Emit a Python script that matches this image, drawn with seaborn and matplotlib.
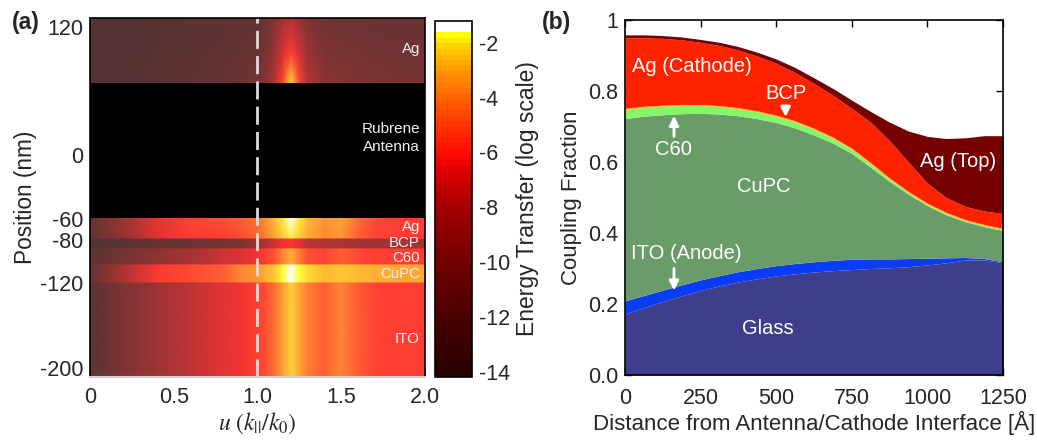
import numpy as np
import matplotlib
matplotlib.use("Agg")
import matplotlib.pyplot as plt
import seaborn as sns
from matplotlib.colors import LinearSegmentedColormap, ListedColormap, Normalize
from matplotlib.cm import ScalarMappable

# ---------------- (a) energy transfer map (log10 values) ----------------
u_pts = [0, 0.2, 0.4, 0.6, 0.8, 0.9, 1.0, 1.05, 1.1, 1.15, 1.2, 1.25, 1.3, 1.4, 1.5, 1.6, 1.7, 1.85, 2.0]

ag_top_high = [-14.2, -14.0, -13.8, -13.5, -13.2, -12.9, -12.6, -12.1, -11.0, -9.2, -8.3, -9.2, -11.0, -11.8, -12.0, -12.1, -12.2, -12.3, -12.3]
ag_top_mid = [-14.2, -14.0, -13.6, -13.2, -12.8, -12.5, -12.0, -11.3, -9.6, -7.2, -6.0, -7.2, -9.5, -11.0, -11.3, -11.5, -11.7, -11.8, -11.8]
ag_top_low = [-14.2, -14.0, -13.5, -13.0, -12.5, -12.0, -11.5, -10.5, -8.5, -5.8, -2.2, -5.8, -8.0, -10.0, -10.5, -11.0, -11.3, -11.5, -11.5]
ag_low_top = [-12.8, -9.3, -6.6, -5.8, -5.4, -4.9, -4.3, -3.6, -2.8, -2.0, -1.2, -2.0, -2.8, -3.5, -3.2, -4.6, -5.5, -5.9, -5.9]
ag_low_bottom = [-13.0, -9.8, -7.0, -6.2, -5.9, -5.5, -4.9, -4.2, -3.4, -2.6, -1.9, -2.5, -3.2, -3.9, -3.6, -5.0, -5.7, -5.9, -5.9]
bcp_map = [-14.2, -13.2, -12.5, -12.0, -11.5, -11.0, -9.5, -8.5, -7.3, -6.4, -6.1, -6.8, -7.9, -8.4, -8.5, -9.0, -9.0, -9.0, -9.0]
c60_map = [-13.5, -11.5, -10.0, -8.8, -7.4, -6.9, -6.4, -6.0, -5.3, -4.0, -2.9, -4.2, -5.3, -5.7, -5.0, -5.6, -5.9, -6.0, -6.0]
cupc_map = [-12.8, -8.5, -6.2, -5.6, -4.9, -4.0, -3.5, -3.0, -2.5, -1.7, -1.2, -1.7, -2.2, -2.8, -2.6, -2.8, -3.0, -3.2, -3.2]
ito_map = [-13.5, -11.0, -9.3, -7.8, -6.8, -6.4, -5.9, -5.4, -4.5, -3.3, -2.3, -3.2, -4.2, -5.0, -4.0, -5.0, -5.7, -5.9, -5.9]

# layer boundaries (nm)
z_ag_top = [67.4, 95, 128.4]
z_rubrene = [-59.2, 67.4]
z_ag_low = [-79, -59.2]
z_bcp = [-88.3, -79]
z_c60 = [-103.3, -88.3]
z_cupc = [-120.2, -103.3]
z_ito = [-208.4, -120.2]

map_labels = ["Ag", "Ag", "BCP", "C60", "CuPC", "ITO"]
map_label_z = [99, -68, -83, -97, -112, -173]

pos_ticks = [120, 0, -60, -80, -120, -200]
u_ticks = [0, 0.5, 1.0, 1.5, 2.0]
u_ticklabels = ["0", "0.5", "1.0", "1.5", "2.0"]
cbar_ticks = [-2, -4, -6, -8, -10, -12, -14]

# colormap anchors
cm_vals = [-14.2, -12, -10, -8, -6.5, -6, -5, -4, -3, -2, -1.6, -1.55, -1.2]
cm_cols = ["#280000", "#4b0000", "#730000", "#a50000", "#e60000", "#ff0a00", "#ff3200",
           "#ff5f00", "#ff9100", "#ffd200", "#ffff00", "#ffffff", "#ffffff"]

# ---------------- (b) coupling fraction (cumulative layer tops) ----------------
dist = [0, 62.5, 125, 187.5, 250, 312.5, 375, 437.5, 500, 562.5, 625, 687.5,
        750, 812.5, 875, 937.5, 1000, 1062.5, 1125, 1187.5, 1250]
glass_top = [0.172, 0.190, 0.207, 0.223, 0.238, 0.251, 0.262, 0.271, 0.279, 0.285, 0.290,
             0.294, 0.297, 0.300, 0.302, 0.305, 0.310, 0.316, 0.324, 0.324, 0.316]
ito_top = [0.209, 0.224, 0.239, 0.254, 0.268, 0.280, 0.291, 0.300, 0.308, 0.314, 0.319,
           0.323, 0.326, 0.327, 0.327, 0.328, 0.329, 0.330, 0.331, 0.328, 0.319]
cupc_top = [0.722, 0.729, 0.733, 0.736, 0.737, 0.735, 0.730, 0.722, 0.711, 0.696, 0.676,
            0.653, 0.624, 0.585, 0.545, 0.509, 0.477, 0.451, 0.432, 0.418, 0.407]
c60_top = [0.748, 0.754, 0.757, 0.759, 0.759, 0.756, 0.750, 0.741, 0.729, 0.713, 0.692,
           0.667, 0.636, 0.595, 0.552, 0.514, 0.481, 0.455, 0.435, 0.421, 0.410]
bcp_top = [0.751, 0.757, 0.760, 0.762, 0.762, 0.759, 0.753, 0.744, 0.732, 0.716, 0.695,
           0.670, 0.639, 0.598, 0.555, 0.517, 0.484, 0.458, 0.438, 0.424, 0.413]
ag_cathode_top = [0.950, 0.950, 0.948, 0.944, 0.937, 0.928, 0.915, 0.898, 0.878, 0.852, 0.821,
                  0.788, 0.751, 0.712, 0.660, 0.600, 0.540, 0.500, 0.475, 0.462, 0.455]
ag_top_top = [0.958, 0.958, 0.956, 0.952, 0.945, 0.937, 0.925, 0.909, 0.890, 0.866, 0.837,
              0.807, 0.774, 0.742, 0.712, 0.687, 0.672, 0.666, 0.668, 0.674, 0.674]
layer_colors = ["#3e3e8c", "#0a3cf5", "#6a9c6a", "#86f56a", "#f5b400", "#ff2200", "#760000"]

# ---------------- style ----------------
sns.set_theme(style="ticks")
plt.rcParams["font.family"] = ["Liberation Sans", "DejaVu Sans"]
plt.rcParams["axes.unicode_minus"] = False
plt.rcParams["mathtext.fontset"] = "stix"

fig = plt.figure(figsize=(10.37, 4.4), dpi=100)
ax_a = fig.add_axes([0.0868, 0.1432, 0.323, 0.816])
cax = fig.add_axes([0.4195, 0.1432, 0.0357, 0.809])
ax_b = fig.add_axes([0.6027, 0.1477, 0.3645, 0.807])

vmin, vmax = -14.2, -1.2
norm = Normalize(vmin, vmax)
base = LinearSegmentedColormap.from_list(
    "et", list(zip([(v - vmin) / (vmax - vmin) for v in cm_vals], cm_cols)))
cmap = ListedColormap(base(np.linspace(0, 1, 64)))
# the map itself is drawn slightly washed out (as if 80 % opaque over white)
faded = cmap(np.arange(64))
faded[:, :3] = 0.8 * faded[:, :3] + 0.2
map_cmap = ListedColormap(faded)

# ---- panel (a)
map_layers = [
    (z_ag_top, [ag_top_low, ag_top_mid, ag_top_high]),
    (z_ag_low, [ag_low_bottom, ag_low_top]),
    (z_bcp, [bcp_map, bcp_map]),
    (z_c60, [c60_map, c60_map]),
    (z_cupc, [cupc_map, cupc_map]),
    (z_ito, [ito_map, ito_map]),
]
for z_rows, profiles in map_layers:
    U, Z = np.meshgrid(u_pts, z_rows)
    ax_a.pcolormesh(U, Z, np.array(profiles), shading="gouraud", cmap=map_cmap, norm=norm,
                    antialiased=False)
ax_a.axhspan(z_rubrene[0], z_rubrene[1], color="black", lw=0)
ax_a.axvline(1.0, color="#dcdcdc", lw=2.0, dashes=(6.5, 2.6))

for lab, z in zip(map_labels, map_label_z):
    ax_a.text(1.97, z, lab, color="#f0f0f0", fontsize=10.8, ha="right", va="center")
ax_a.text(1.97, 24, "Rubrene", color="#f0f0f0", fontsize=11, ha="right", va="center")
ax_a.text(1.97, 7, "Antenna", color="#f0f0f0", fontsize=11, ha="right", va="center")

ax_a.set_xlim(0, 2)
ax_a.set_ylim(-208.4, 128.4)
ax_a.set_xticks(u_ticks)
ax_a.set_xticklabels(u_ticklabels)
ax_a.set_yticks(pos_ticks)
ax_a.set_yticklabels([str(t) for t in pos_ticks])
ax_a.tick_params(axis="x", direction="in", length=5, width=1.5, color="#d0d0d0",
                 labelsize=15.5, pad=7)
ax_a.tick_params(axis="y", direction="in", length=4, width=1, color="#d0d0d0",
                 labelsize=15.5, pad=5)
for side in ["top", "right", "left"]:
    ax_a.spines[side].set_color("black")
    ax_a.spines[side].set_linewidth(1.2)
ax_a.spines["bottom"].set_color("#d0d0d0")
ax_a.spines["bottom"].set_linewidth(1.5)
ax_a.set_ylabel("Position (nm)", fontsize=16.3, labelpad=2)
ax_a.set_xlabel(r"$u\ (k_{||}/k_0)$", fontsize=17, labelpad=2)
fig.text(0.011, 0.948, "(a)", fontsize=16.5, fontweight="bold", va="center")

cb = fig.colorbar(ScalarMappable(norm=norm, cmap=cmap), cax=cax, ticks=cbar_ticks)
cb.outline.set_linewidth(1.2)
cb.outline.set_edgecolor("black")
cax.tick_params(direction="in", length=3, labelsize=15.5, pad=5)
cax.set_ylabel("Energy Transfer (log scale)", fontsize=16.5, labelpad=4)

# ---- panel (b)
lower = np.zeros(len(dist))
for top, col in zip([glass_top, ito_top, cupc_top, c60_top, bcp_top, ag_cathode_top, ag_top_top],
                    layer_colors):
    ax_b.fill_between(dist, lower, top, color=col, lw=0)
    lower = np.array(top)

txt = dict(color="white", fontsize=14.5, va="center")
ax_b.text(24, 0.868, "Ag (Cathode)", **txt)
ax_b.text(532, 0.794, "BCP", ha="center", **txt)
ax_b.text(159, 0.634, "C60", ha="center", **txt)
ax_b.text(460, 0.530, "CuPC", ha="center", **txt)
ax_b.text(1101, 0.600, "Ag (Top)", ha="center", **txt)
ax_b.text(20, 0.341, "ITO (Anode)", **txt)
ax_b.text(473, 0.132, "Glass", ha="center", **txt)
arrow = dict(arrowstyle="-|>", color="white", lw=2, mutation_scale=14)
ax_b.annotate("", xy=(531, 0.719), xytext=(531, 0.766), arrowprops=arrow)
ax_b.annotate("", xy=(162, 0.738), xytext=(162, 0.664), arrowprops=arrow)
ax_b.annotate("", xy=(162, 0.230), xytext=(162, 0.308), arrowprops=arrow)

ax_b.set_xlim(0, 1250)
ax_b.set_ylim(0, 1)
ax_b.set_xticks([0, 250, 500, 750, 1000, 1250])
ax_b.set_yticks([0, 0.2, 0.4, 0.6, 0.8, 1.0])
ax_b.set_yticklabels(["0.0", "0.2", "0.4", "0.6", "0.8", "1"])
ax_b.tick_params(direction="in", top=True, right=True, length=5, width=1, color="black",
                 labelsize=15.5)
ax_b.tick_params(axis="x", pad=9)
ax_b.tick_params(axis="y", pad=5)
for sp in ax_b.spines.values():
    sp.set_color("black")
    sp.set_linewidth(1.2)
ax_b.set_ylabel("Coupling Fraction", fontsize=16, labelpad=4)
ax_b.set_xlabel("Distance from Antenna/Cathode Interface [Å]", fontsize=16, labelpad=2)
fig.text(0.523, 0.948, "(b)", fontsize=16.5, fontweight="bold", va="center")

fig.savefig("out.png", dpi=100)
